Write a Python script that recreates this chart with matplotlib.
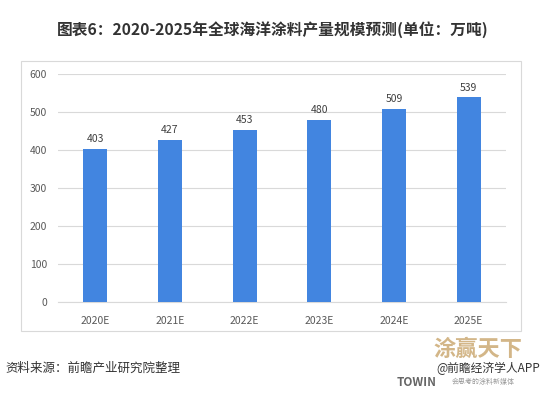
import matplotlib
matplotlib.use("Agg")
import matplotlib.pyplot as plt
from matplotlib.patches import Rectangle

plt.rcParams['font.family'] = ['Noto Sans CJK SC', 'DejaVu Sans']

categories = ["2020E", "2021E", "2022E", "2023E", "2024E", "2025E"]
values = [403, 427, 453, 480, 509, 539]
yticks = [0, 100, 200, 300, 400, 500, 600]

W, H = 546, 393
fig = plt.figure(figsize=(W / 100, H / 100), dpi=100)

# outer chart frame
fig.patches.append(Rectangle((21 / W, 1 - 331 / H), 500 / W, 270 / H,
                             transform=fig.transFigure, fill=False,
                             edgecolor="#d9d9d9", linewidth=0.8))

ax = fig.add_axes([58 / W, 1 - 302 / H, 448 / W, 228 / H])
x = range(len(categories))
bars = ax.bar(x, values, width=0.32, color="#4285e0", zorder=3)
for xi, v in zip(x, values):
    ax.text(xi, v + 12, str(v), ha="center", va="bottom", fontsize=7.5,
            color="#404040")
ax.set_xlim(-0.5, len(categories) - 0.5)
ax.set_ylim(0, 600)
ax.set_yticks(yticks)
ax.set_yticklabels([str(t) for t in yticks], fontsize=7.5, color="#595959")
ax.set_xticks(list(x))
ax.set_xticklabels(categories, fontsize=7.5, color="#595959")
ax.tick_params(length=0, pad=10)
ax.tick_params(axis="y", pad=8)
ax.grid(axis="y", color="#d9d9d9", linewidth=0.8, zorder=0)
for s in ["top", "right", "left"]:
    ax.spines[s].set_visible(False)
ax.spines["bottom"].set_color("#d9d9d9")

fig.text(273 / W, 1 - 30 / H, "图表6：2020-2025年全球海洋涂料产量规模预测(单位：万吨)",
         ha="center", va="center", fontsize=11.3, fontweight="bold", color="#333333")
fig.text(5 / W, 1 - 368 / H, "资料来源：前瞻产业研究院整理", ha="left", va="center",
         fontsize=9, color="#333333")

# logo area
fig.text(478 / W, 1 - 349 / H, "涂赢天下", ha="center", va="center", fontsize=16,
         color="#c8a46a", alpha=0.8, fontweight="bold")
fig.text(540 / W, 1 - 368 / H, "@前瞻经济学人APP", ha="right", va="center",
         fontsize=8.5, color="#333333")
fig.text(397 / W, 1 - 382 / H, "TOWIN", ha="left", va="center", fontsize=8.5,
         color="#666666", fontweight="bold")
fig.text(452 / W, 1 - 382 / H, "会思考的涂料新媒体", ha="left", va="center",
         fontsize=5, color="#999999")

fig.savefig("out.png", dpi=100)
